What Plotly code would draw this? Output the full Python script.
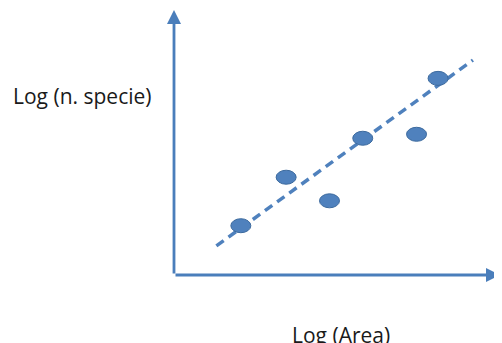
import plotly.graph_objects as go

# Data (log units)
log_area = [2.05, 3.44, 4.77, 5.79, 7.44, 8.10]
log_species = [1.86, 3.69, 2.80, 5.16, 5.31, 7.42]
trend_x = [1.30, 9.17]
trend_y = [1.10, 8.11]
x_label = "Log (Area)"
y_label = "Log (n. specie)"

X_MAX = 10.0
Y_MAX = 10.0

OFF = 8  # page body margin
W, H = 502, 343
ML, MT = 174 - OFF, 10 - OFF
MR = W - (500 - OFF)
MB = H - (275 - OFF)
pw = W - ML - MR
ph = H - MT - MB

blue = "#4F81BD"
edge = "#3C6A9E"
axis_col = "#4A7EBB"

fig = go.Figure()
fig.add_trace(go.Scatter(x=trend_x, y=trend_y, mode="lines",
                         line=dict(color=blue, width=3.5, dash="9px,6px"),
                         hoverinfo="skip", showlegend=False))

# ellipse points (20x14 px) in data units
rx = 10 / pw * X_MAX
ry = 7 / ph * Y_MAX
shapes = []
for xv, yv in zip(log_area, log_species):
    shapes.append(dict(type="circle", xref="x", yref="y",
                       x0=xv - rx, x1=xv + rx, y0=yv - ry, y1=yv + ry,
                       fillcolor=blue, line=dict(color=edge, width=1), layer="above"))

def px_x(p):
    return (p - OFF - ML) / pw

def px_y(p):
    return (H - MB - (p - OFF)) / ph

annotations = [
    dict(x=0, y=Y_MAX, ax=0, ay=0, xref="x", yref="y", axref="x", ayref="y",
         showarrow=True, arrowhead=2, arrowsize=1.0, arrowwidth=2.8,
         arrowcolor=axis_col, text=""),
    dict(x=X_MAX, y=0, ax=0, ay=0, xref="x", yref="y", axref="x", ayref="y",
         showarrow=True, arrowhead=2, arrowsize=1.0, arrowwidth=2.8,
         arrowcolor=axis_col, text=""),
    dict(x=px_x(82), y=px_y(96), xref="paper", yref="paper",
         text=y_label, showarrow=False, xanchor="center", yanchor="middle",
         font=dict(family="Open Sans", size=21, color="#1a1a1a")),
    dict(x=px_x(341), y=px_y(335), xref="paper", yref="paper",
         text=x_label, showarrow=False, xanchor="center", yanchor="middle",
         font=dict(family="Open Sans", size=21, color="#1a1a1a")),
]

fig.update_layout(
    width=W, height=H,
    margin=dict(l=ML, r=MR, t=MT, b=MB),
    paper_bgcolor="white", plot_bgcolor="white",
    xaxis=dict(range=[0, X_MAX], visible=False, fixedrange=True),
    yaxis=dict(range=[0, Y_MAX], visible=False, fixedrange=True),
    shapes=shapes, annotations=annotations, showlegend=False,
)

fig.write_html("out.html")
